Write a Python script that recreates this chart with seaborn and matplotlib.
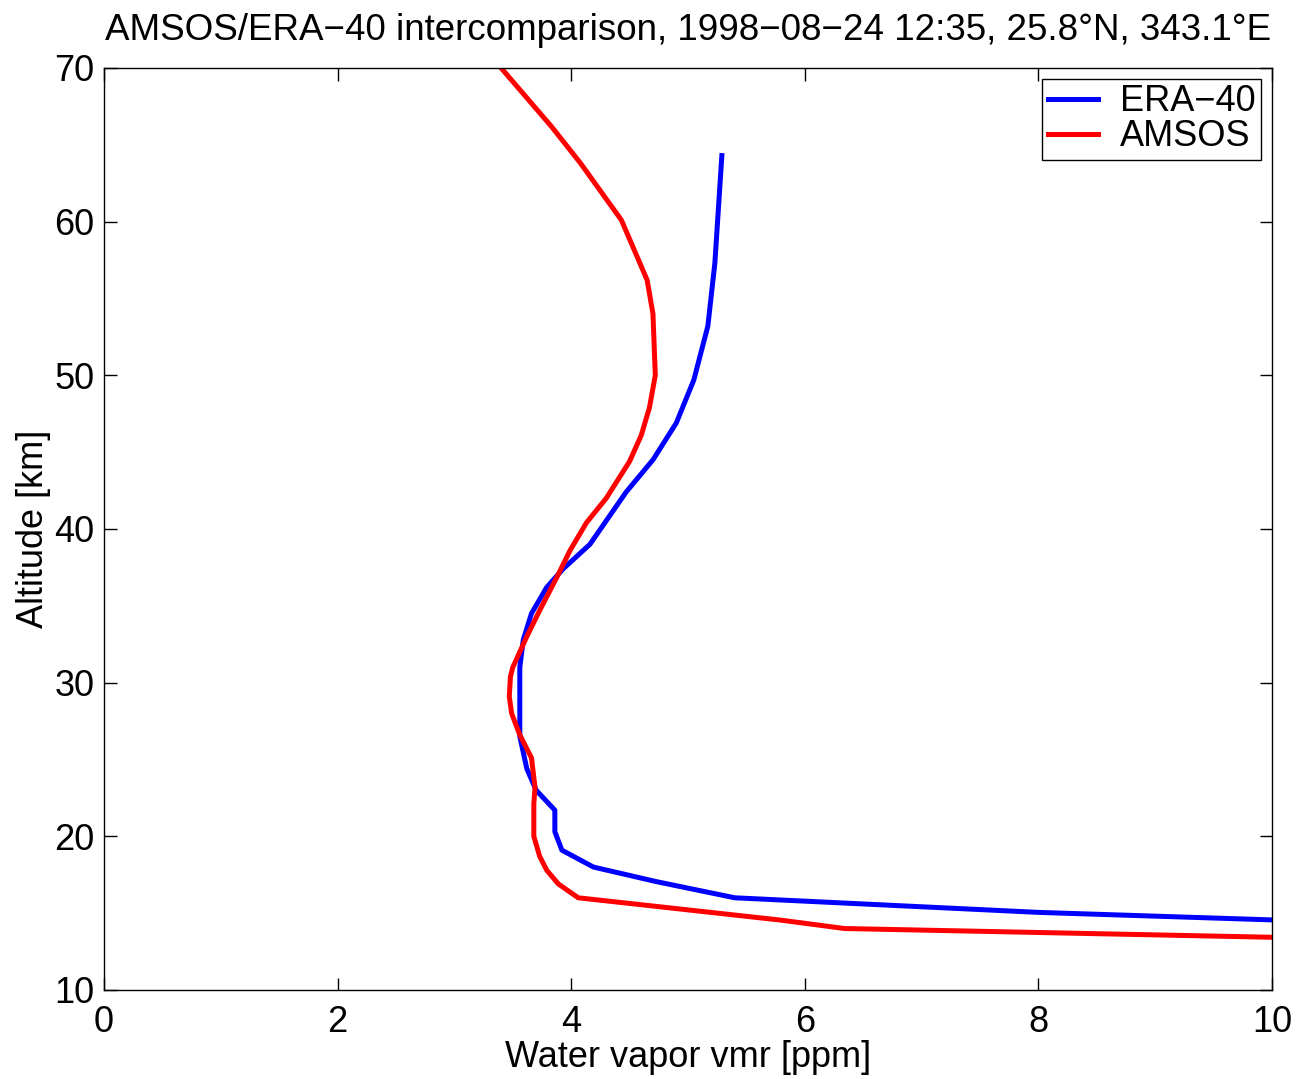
import pandas as pd
import seaborn as sns
import matplotlib.pyplot as plt

# ERA-40 profile (vmr in ppm, altitude in km)
era_vmr = [5.29, 5.23, 5.17, 5.05, 4.90, 4.70, 4.47, 4.16, 3.93, 3.79, 3.66,
           3.59, 3.56, 3.56, 3.56, 3.62, 3.70, 3.86, 3.86, 3.92, 4.19, 4.73,
           5.40, 8.00, 10.0]
era_alt = [64.3, 57.3, 53.2, 49.7, 46.9, 44.5, 42.4, 39.0, 37.4, 36.2, 34.5,
           32.8, 31.0, 29.3, 26.5, 24.4, 23.0, 21.7, 20.3, 19.1, 18.0, 17.05,
           16.0, 15.05, 14.56]

# AMSOS retrieval
amsos_vmr = [3.40, 3.83, 4.08, 4.43, 4.65, 4.70, 4.72, 4.67, 4.60, 4.50,
             4.30, 4.13, 3.99, 3.88, 3.73, 3.62, 3.50, 3.48, 3.47, 3.49,
             3.56, 3.66, 3.69, 3.68, 3.68, 3.73, 3.79, 3.89, 4.06, 5.79,
             6.34, 10.0]
amsos_alt = [70.0, 66.2, 63.8, 60.1, 56.2, 54.0, 50.0, 47.9, 46.1, 44.4,
             42.0, 40.4, 38.6, 36.9, 34.7, 33.0, 31.0, 30.4, 29.1, 28.0,
             26.6, 25.1, 23.2, 22.1, 20.0, 18.7, 17.8, 16.9, 16.0, 14.55,
             14.0, 13.43]

df = pd.concat([
    pd.DataFrame({"vmr": era_vmr, "alt": era_alt, "src": "ERA\u221240"}),
    pd.DataFrame({"vmr": amsos_vmr, "alt": amsos_alt, "src": "AMSOS"}),
])

plt.rcParams["font.family"] = ["Liberation Sans", "DejaVu Sans"]
plt.rcParams["axes.unicode_minus"] = True

fig = plt.figure(figsize=(12.97, 10.79), dpi=100)
ax = fig.add_axes([0.0802, 0.0825, 0.9005, 0.8545])

sns.lineplot(data=df, x="vmr", y="alt", hue="src", sort=False, estimator=None,
             palette={"ERA\u221240": "#0000ff", "AMSOS": "#ff0000"},
             linewidth=3.6, ax=ax)

ax.set_xlim(0, 10)
ax.set_ylim(10, 70)
ax.set_xticks(range(0, 11, 2))
ax.set_yticks(range(10, 71, 10))
ax.tick_params(direction="in", length=9, width=1, labelsize=26,
               top=True, right=True)
ax.tick_params(axis="x", pad=11)
ax.tick_params(axis="y", pad=7)
for s in ax.spines.values():
    s.set_linewidth(1)

ax.set_xlabel("Water vapor vmr [ppm]", fontsize=26, labelpad=0)
ax.set_ylabel("Altitude [km]", fontsize=26, labelpad=2)
ax.set_title("AMSOS/ERA\u221240 intercomparison, 1998\u221208\u221224 12:35, 25.8\u00b0N, 343.1\u00b0E",
             fontsize=26.5, pad=20)

leg = ax.legend(loc="upper right", fontsize=26, frameon=True, fancybox=False,
                edgecolor="black", framealpha=1, handlelength=1.4,
                handletextpad=0.6, borderaxespad=0.3, borderpad=0.15,
                labelspacing=0.0)
leg.get_frame().set_linewidth(1)

fig.savefig("out.png", dpi=100)
